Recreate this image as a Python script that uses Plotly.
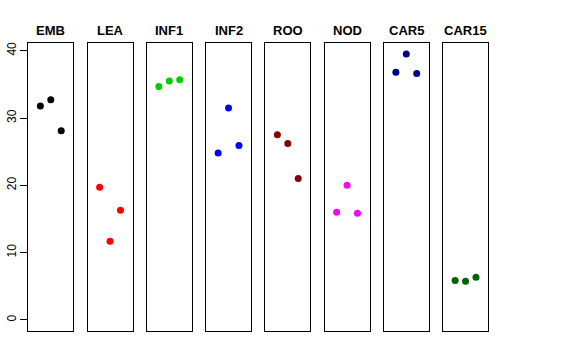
import plotly.graph_objects as go

panels = ["EMB", "LEA", "INF1", "INF2", "ROO", "NOD", "CAR5", "CAR15"]
colors = ["#000000", "#FF0000", "#00CD00", "#0000FF", "#8B0000", "#FF00FF", "#00008B", "#006400"]
positions = [1, 2, 3]
values = {
    "EMB": [31.8, 32.7, 28.1],
    "LEA": [19.7, 11.7, 16.3],
    "INF1": [34.7, 35.5, 35.7],
    "INF2": [24.8, 31.5, 25.9],
    "ROO": [27.5, 26.2, 21.0],
    "NOD": [16.0, 20.0, 15.85],
    "CAR5": [36.8, 39.5, 36.6],
    "CAR15": [5.85, 5.75, 6.35],
}
y_ticks = [0, 10, 20, 30, 40]

W, H = 576, 360
left0, pw, step = 28.3, 45.0, 59.25
top_px, bot_px = 43.3, 330.7

fig = go.Figure()
layout = dict(
    width=W, height=H, margin=dict(l=0, r=0, t=0, b=0, autoexpand=False),
    plot_bgcolor="white", paper_bgcolor="white", showlegend=False,
    font=dict(family="Liberation Sans, Arial, sans-serif", color="black"),
)
annotations = []
for i, name in enumerate(panels):
    k = "" if i == 0 else str(i + 1)
    x0 = left0 + i * step
    x1 = x0 + pw
    fig.add_trace(go.Scatter(
        x=positions, y=values[name], mode="markers",
        marker=dict(color=colors[i], size=7),
        xaxis="x" + k, yaxis="y" + k, hoverinfo="skip",
    ))
    layout["xaxis" + k] = dict(
        domain=[x0 / W, x1 / W], range=[-0.16, 4.16],
        showgrid=False, zeroline=False, showticklabels=False, ticks="",
        showline=True, mirror=True, linecolor="black", linewidth=1,
        anchor="y" + k, fixedrange=True, automargin=False,
    )
    ya = dict(
        domain=[1 - bot_px / H, 1 - top_px / H], range=[-1.6, 41.1],
        showgrid=False, zeroline=False,
        showline=True, mirror=True, linecolor="black", linewidth=1,
        anchor="x" + k, fixedrange=True, automargin=False,
    )
    if i == 0:
        ya.update(tickvals=y_ticks, ticktext=[str(v) for v in y_ticks],
                  ticks="outside", ticklen=7, tickcolor="black",
                  tickangle=-90, tickfont=dict(size=12, color="black"))
    else:
        ya.update(showticklabels=False, ticks="")
    layout["yaxis" + k] = ya
    annotations.append(dict(
        x=(x0 + x1) / 2 / W, y=1 - 30 / H, xref="paper", yref="paper",
        text="<b>" + name + "</b>", showarrow=False,
        xanchor="center", yanchor="middle",
        font=dict(size=13, color="black"),
    ))
layout["annotations"] = annotations
fig.update_layout(**layout)
fig.write_html("out.html", config={"displayModeBar": False},
               post_script="document.body.style.margin='0';")
